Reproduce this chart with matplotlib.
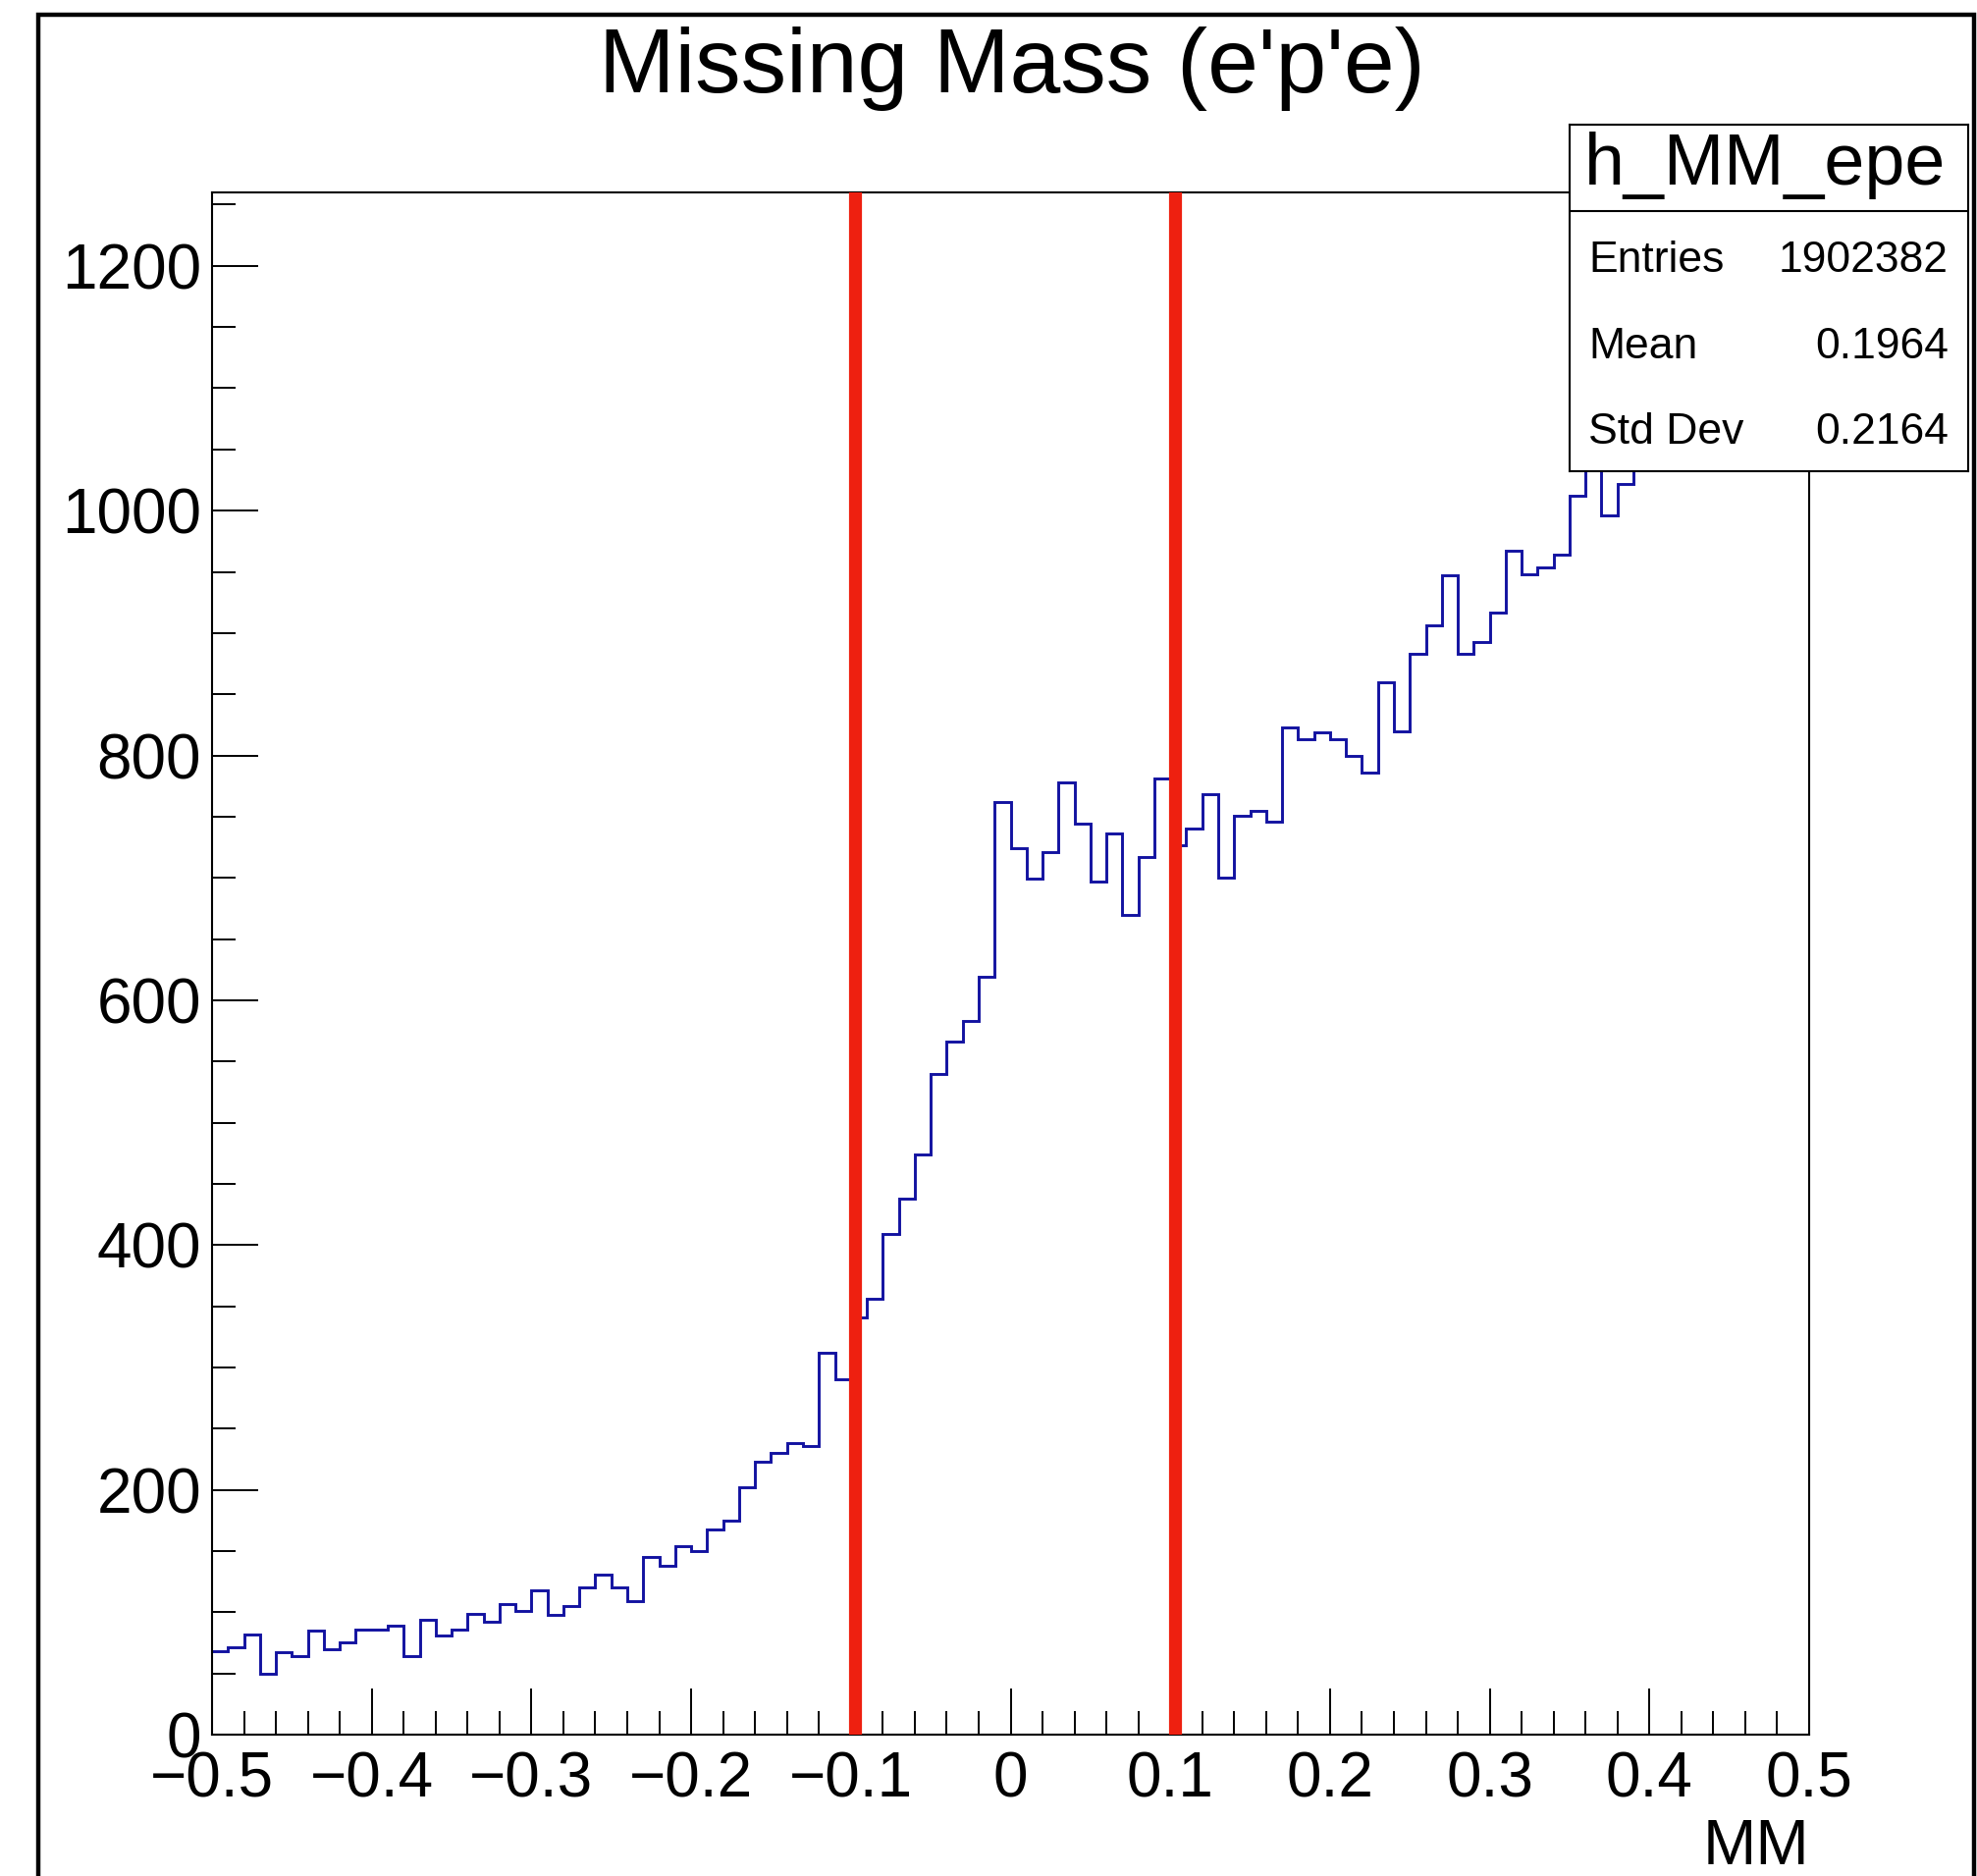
import numpy as np
import matplotlib
matplotlib.use("Agg")
import matplotlib.pyplot as plt
from matplotlib.lines import Line2D
from matplotlib.ticker import MultipleLocator

plt.rcParams['font.family'] = ['Liberation Sans', 'DejaVu Sans']

# ---------------- data ----------------
bin_lo, bin_hi, n_bins = -0.5, 0.5, 100
counts = [
    68, 71, 82, 50, 67, 64, 85, 70, 75, 86,
    86, 89, 64, 94, 81, 86, 99, 92, 107, 101,
    118, 98, 105, 120, 131,
    120, 109, 145, 138, 154, 150, 168, 175, 202, 223,
    230, 238, 236, 312, 290,
    341, 356, 409, 438, 474, 540, 566, 583, 619,
    762, 724, 699, 721, 778, 744, 697, 736, 670, 717,
    781, 727, 740, 768, 700, 751, 755, 746,
    823, 813, 819, 813, 800, 786,
    860, 820, 883, 906, 947, 883, 893, 917, 967, 948,
    954, 964, 1012, 1060, 996, 1022,
    1050, 1080, 1100, 1130, 1120, 1150, 1170, 1160, 1185, 1200, 1190,
]
cut_positions = [-0.0975, 0.1030]
xtick_values = [-0.5, -0.4, -0.3, -0.2, -0.1, 0.0, 0.1, 0.2, 0.3, 0.4, 0.5]
xtick_labels = ['\u22120.5', '\u22120.4', '\u22120.3', '\u22120.2', '\u22120.1',
                '0', '0.1', '0.2', '0.3', '0.4', '0.5']
ytick_values = [0, 200, 400, 600, 800, 1000, 1200]
ytick_labels = ['0', '200', '400', '600', '800', '1000', '1200']
title = "Missing Mass (e'p'e)"
xlabel = "MM"
hist_name = "h_MM_epe"
stat_names = ["Entries", "Mean", "Std Dev"]
stat_values = ["1902382", "0.1964", "0.2164"]

# ---------------- figure ----------------
W, H, DPI = 2014, 1911, 100
fig = plt.figure(figsize=(W / DPI, H / DPI), dpi=DPI)

def fx(px):
    return px / W

def fy(py):
    return 1 - py / H

# canvas border (top, left, right)
border_kw = dict(color='black', lw=3.2, solid_joinstyle='miter')
fig.add_artist(Line2D([fx(39), fx(39), fx(2011), fx(2011)],
                      [-0.02, fy(15), fy(15), -0.02], transform=fig.transFigure, **border_kw))

ax = fig.add_axes([fx(216), fy(1767), fx(1843) - fx(216), fy(196) - fy(1767)])

edges = np.linspace(bin_lo, bin_hi, n_bins + 1)
ax.stairs(counts, edges, baseline=None, color='#1212a0', lw=2.1, zorder=2)

for xc in cut_positions:
    ax.axvline(xc, color='#ee2010', lw=9.5, zorder=3)

ax.set_xlim(bin_lo, bin_hi)
ax.set_ylim(0, 1260)

ax.set_xticks(xtick_values)
ax.set_xticklabels(xtick_labels)
ax.set_yticks(ytick_values)
ax.set_yticklabels(ytick_labels)
ax.xaxis.set_minor_locator(MultipleLocator(0.02))
ax.yaxis.set_minor_locator(MultipleLocator(50))

ax.tick_params(axis='both', which='major', direction='in', length=34, width=1.4,
               labelsize=46, colors='black')
ax.tick_params(axis='both', which='minor', direction='in', length=17, width=1.4)
ax.tick_params(axis='x', which='major', pad=12)
ax.tick_params(axis='y', which='major', pad=8)
ax.tick_params(top=False, right=False, which='both')

for sp in ax.spines.values():
    sp.set_linewidth(1.5)

ax.annotate(xlabel, xy=(1, 0), xycoords='axes fraction',
            xytext=(0, -(1882 - 1767) * 72 / DPI), textcoords='offset points',
            ha='right', va='center', fontsize=47)

fig.text(fx(1031), fy(94), title, ha='center', va='baseline', fontsize=67)

# stats box
bx0, bx1, by0, by1 = 1599, 2005, 127, 480
sax = fig.add_axes([fx(bx0), fy(by1), fx(bx1) - fx(bx0), fy(by0) - fy(by1)], zorder=10)
sax.set_xlim(0, 1)
sax.set_ylim(0, 1)
sax.set_xticks([])
sax.set_yticks([])
sax.set_facecolor('white')
for sp in sax.spines.values():
    sp.set_linewidth(1.5)
div = 1 - (215 - by0) / (by1 - by0)
sax.axhline(div, color='black', lw=1.5)
sax.text(0.49, 1 - (188 - by0) / (by1 - by0), hist_name, ha='center', va='baseline', fontsize=53)
row_baselines = [277, 365, 452]
for name, val, yb in zip(stat_names, stat_values, row_baselines):
    yf = 1 - (yb - by0) / (by1 - by0)
    sax.text(0.0475, yf, name, ha='left', va='baseline', fontsize=32)
    sax.text(0.951, yf, val, ha='right', va='baseline', fontsize=32)

fig.savefig("out.png", dpi=DPI)
